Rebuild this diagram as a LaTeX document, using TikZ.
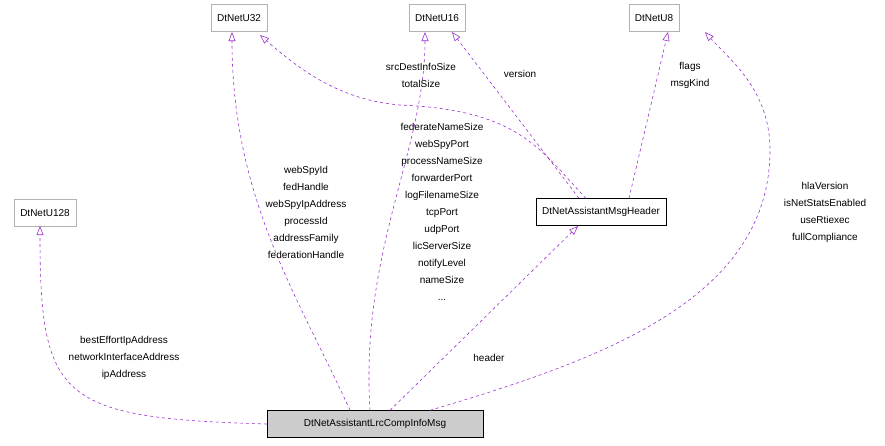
\documentclass[tikz,border=0pt]{standalone}
\usepackage{fontspec}
\setmainfont{Liberation Sans}
\usetikzlibrary{arrows.meta}
\definecolor{edgecol}{HTML}{9A32CD}
\tikzset{
  cls/.style={draw=gray!60, minimum height=27pt, inner xsep=6pt, font=\fontsize{10}{12}\selectfont},
  uses/.style={edgecol, dashed, semithick, -{Triangle[open,length=9pt,width=7pt]}},
  lbl/.style={align=center, font=\fontsize{10}{17}\selectfont}
}
\begin{document}
\begin{tikzpicture}[x=1pt,y=-1pt]
    \useasboundingbox (0,0) rectangle (885,445);

    % classes
    \node[cls] (u32) at (239,18) {DtNetU32};
    \node[cls] (u16) at (437,18) {DtNetU16};
    \node[cls] (u8) at (654,18) {DtNetU8};
    \node[cls] (u128) at (45,213) {DtNetU128};
    \node[cls, draw=black] (hdr) at (601,212) {DtNetAssistantMsgHeader};
    \node[cls, draw=black, fill=gray!40, minimum width=216pt] (main) at (375,424) {DtNetAssistantLrcCompInfoMsg};

    % member edges from the message
    \draw[uses] (main.west) .. controls (60,418) and (40,400) .. (40,226);
    \draw[uses] ([xshift=-25pt]main.north) .. controls (300,300) and (232,200) .. (232,32);
    \draw[uses] ([xshift=-5pt]main.north) .. controls (360,250) and (425,150) .. (425,32);
    \draw[uses] ([xshift=15pt]main.north) -- (578,226);
    \draw[uses] ([xshift=55pt]main.north) .. controls (600,360) and (770,300) .. (770,150) .. controls (770,90) and (730,60) .. (705,32);

    % member edges from the header
    \draw[uses] ([xshift=-15pt]hdr.north) .. controls (540,150) and (520,110) .. (400,105) .. controls (340,100) and (300,70) .. (260,35);
    \draw[uses] ([xshift=-22pt]hdr.north) -- (452,32);
    \draw[uses] ([xshift=28pt]hdr.north) -- (668,32);

    % labels
    \node[lbl] (l128) at (124,358) {bestEffortIpAddress\\networkInterfaceAddress\\ipAddress};
    \node[lbl] (l32) at (306,212) {webSpyId\\fedHandle\\webSpyIpAddress\\processId\\addressFamily\\federationHandle};
    \node[lbl] (l16) at (442,212) {federateNameSize\\webSpyPort\\processNameSize\\forwarderPort\\logFilenameSize\\tcpPort\\udpPort\\licServerSize\\notifyLevel\\nameSize\\...};
    \node[lbl] (lsrc) at (421,75) {srcDestInfoSize\\totalSize};
    \node[lbl] (lver) at (520,74) {version};
    \node[lbl] (lflg) at (690,75) {flags\\msgKind};
    \node[lbl] (lhdr) at (489,358) {header};
    \node[lbl] (lhla) at (825,212) {hlaVersion\\isNetStatsEnabled\\useRtiexec\\fullCompliance};
\end{tikzpicture}
\end{document}
